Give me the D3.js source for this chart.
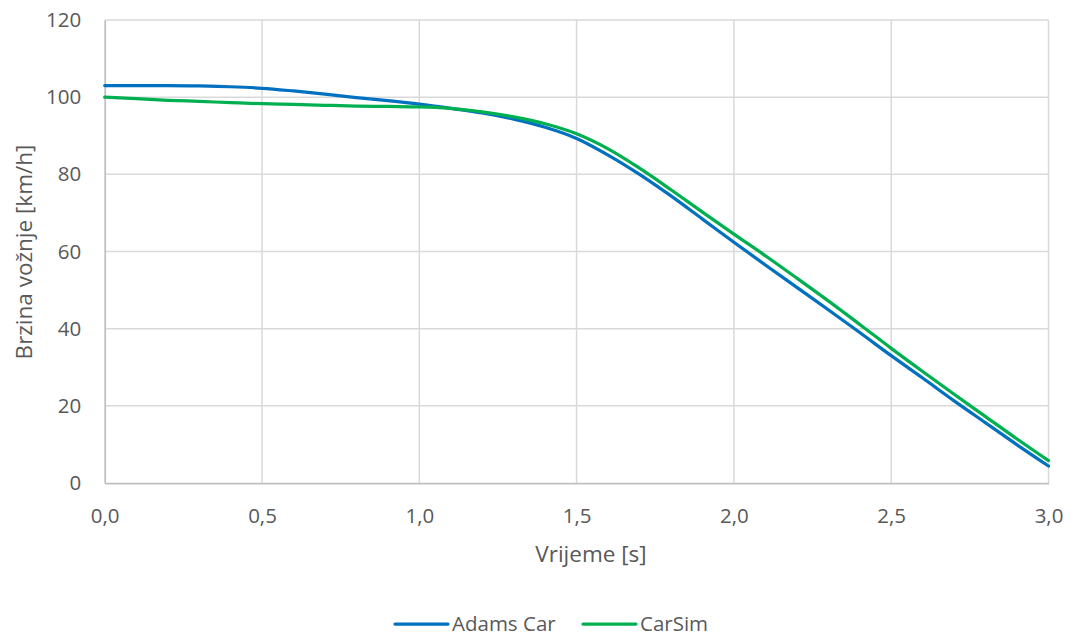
<!DOCTYPE html>
<html>
<head>
<meta charset="utf-8">
<script src="https://cdn.jsdelivr.net/npm/d3@7"></script>
<style>
  html, body { margin: 0; padding: 0; background: #fff; }
  svg { display: block; font-family: "Open Sans", sans-serif; }
</style>
</head>
<body>
<svg id="chart" width="1075" height="637"></svg>
<script>
// ---- Data ----
const times = [0.0,0.1,0.2,0.3,0.4,0.5,0.6,0.7,0.8,0.9,1.0,1.1,1.2,1.3,1.4,1.5,1.6,1.7,1.8,1.9,2.0,2.1,2.2,2.3,2.4,2.5,2.6,2.7,2.8,2.9,3.0];
const adamsCar = [103.0,103.0,103.0,102.9,102.7,102.3,101.6,100.8,99.9,99.1,98.2,97.1,95.9,94.3,92.2,89.3,85.0,80.0,74.4,68.4,62.4,56.5,50.7,44.9,39.0,33.0,27.2,21.3,15.6,9.9,4.4];
const carSim   = [100.0,99.6,99.2,98.9,98.6,98.3,98.1,97.9,97.7,97.6,97.5,97.1,96.2,94.9,93.1,90.5,86.6,81.6,76.0,70.2,64.5,58.9,53.1,47.2,41.1,34.9,28.9,23.0,17.2,11.4,5.8];
const seriesNames = ["Adams Car", "CarSim"];
const xTicks = [0.0,0.5,1.0,1.5,2.0,2.5,3.0];
const yTicks = [0,20,40,60,80,100,120];
const xTitle = "Vrijeme [s]";
const yTitle = "Brzina vožnje [km/h]";

const colors = ["#0070C0", "#00B050"];
const seriesData = [adamsCar, carSim];

// ---- Layout ----
const svg = d3.select("#chart");
const mLeft = 104.7, mRight = 1048.5, mTop = 20, mBottom = 483;
const textColor = "#595959";

const x = d3.scaleLinear().domain([0, 3]).range([mLeft, mRight]);
const y = d3.scaleLinear().domain([0, 120]).range([mBottom, mTop]);

const fmt = d => d.toFixed(1).replace(".", ",");

// gridlines
svg.append("g").selectAll("line").data(yTicks.filter(d => d > 0)).join("line")
  .attr("x1", mLeft).attr("x2", mRight)
  .attr("y1", d => y(d)).attr("y2", d => y(d))
  .attr("stroke", "#D9D9D9").attr("stroke-width", 1.5);
svg.append("g").selectAll("line").data(xTicks.filter(d => d > 0)).join("line")
  .attr("y1", mTop).attr("y2", mBottom)
  .attr("x1", d => x(d)).attr("x2", d => x(d))
  .attr("stroke", "#D9D9D9").attr("stroke-width", 1.5);

// axes
const xAxis = svg.append("g").attr("transform", `translate(0,${mBottom})`)
  .call(d3.axisBottom(x).tickValues(xTicks).tickFormat(fmt).tickSize(0).tickPadding(25));
const yAxis = svg.append("g").attr("transform", `translate(${mLeft},0)`)
  .call(d3.axisLeft(y).tickValues(yTicks).tickSize(0).tickPadding(23.5));
[xAxis, yAxis].forEach(a => {
  a.select(".domain").attr("stroke", "#BFBFBF").attr("stroke-width", 1.75);
  a.selectAll("text").attr("fill", textColor).style("font-size", "20.5px")
    .style("font-family", "'Open Sans', sans-serif");
});

// lines
const line = d3.line().x((d, i) => x(times[i])).y(d => y(d)).curve(d3.curveMonotoneX);
svg.append("g").selectAll("path").data(seriesData).join("path")
  .attr("d", d => line(d))
  .attr("fill", "none")
  .attr("stroke", (d, i) => colors[i])
  .attr("stroke-width", 3.25)
  .attr("stroke-linecap", "round")
  .attr("stroke-linejoin", "round");

// axis titles
svg.append("text").attr("x", 591).attr("y", 562).attr("text-anchor", "middle")
  .attr("fill", textColor).style("font-size", "22.5px").text(xTitle);
svg.append("text").attr("transform", `translate(32,252) rotate(-90)`).attr("text-anchor", "middle")
  .attr("fill", textColor).style("font-size", "22.5px").text(yTitle);

// legend
const legendX = [395, 583];
const lg = svg.append("g");
seriesNames.forEach((name, i) => {
  const lx = legendX[i];
  lg.append("line").attr("x1", lx).attr("x2", lx + 53).attr("y1", 624).attr("y2", 624)
    .attr("stroke", colors[i]).attr("stroke-width", 3.25).attr("stroke-linecap", "round");
  lg.append("text").attr("x", lx + 57).attr("y", 631).attr("fill", textColor)
    .style("font-size", "20.5px").text(name);
});
</script>
</body>
</html>
